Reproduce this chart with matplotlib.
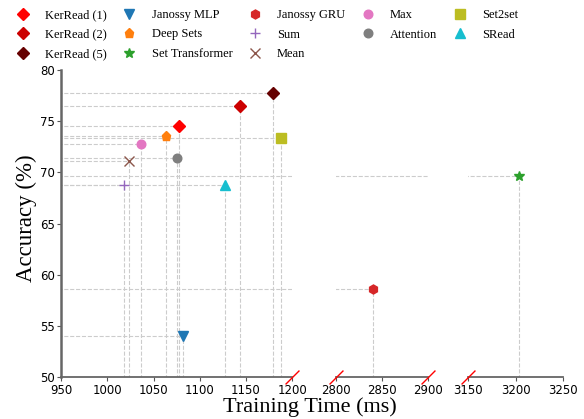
import matplotlib
matplotlib.use("Agg")
import matplotlib.pyplot as plt

names = ["KerRead (1)", "KerRead (2)", "KerRead (5)", "Janossy MLP", "Deep Sets",
         "Set Transformer", "Janossy GRU", "Sum", "Mean", "Max", "Attention",
         "Set2set", "SRead"]
times = [1078, 1144, 1179.5, 1082, 1063.5, 3203, 2840, 1018, 1023, 1036.5, 1075, 1188, 1127.6]
accs = [74.5, 76.5, 77.8, 54.0, 73.6, 69.7, 58.6, 68.8, 71.1, 72.8, 71.4, 73.4, 68.8]
colors = ["#ff0000", "#cc0000", "#660000", "tab:blue", "tab:orange", "tab:green",
          "tab:red", "tab:purple", "tab:brown", "tab:pink", "tab:gray", "tab:olive", "tab:cyan"]
markers = ["D", "D", "D", "v", "p", "*", "h", "+", "x", "o", "o", "s", "^"]
sizes = [6.5, 6.5, 6.5, 6.5, 6.5, 7.5, 6.5, 6.5, 6.5, 6.2, 6.2, 6.5, 6.5]

xlims = [(950, 1200), (2800, 2900), (3150, 3250)]
xticks = [[950, 1000, 1050, 1100, 1150, 1200], [2800, 2850, 2900], [3150, 3200, 3250]]
yticks = [50, 55, 60, 65, 70, 75, 80]

fig = plt.figure(figsize=(5.84, 4.19), dpi=100)
W, H = 584, 419
panels_px = [(61, 292.3), (335.7, 427.7), (468, 563.3)]
top, bot = 70, 377.3
axes = []
for (x0, x1) in panels_px:
    ax = fig.add_axes([x0 / W, 1 - bot / H, (x1 - x0) / W, (bot - top) / H])
    axes.append(ax)

for i, ax in enumerate(axes):
    ax.set_xlim(*xlims[i])
    ax.set_ylim(50, 80)
    ax.set_xticks(xticks[i])
    ax.tick_params(axis="x", labelsize=8.5, length=3, color="#555555", pad=1.5)
    for s in ["top", "right"]:
        ax.spines[s].set_visible(False)
    ax.spines["bottom"].set_color("#666666")
    ax.spines["bottom"].set_linewidth(1.3)
    if i == 0:
        ax.set_yticks(yticks)
        ax.tick_params(axis="y", labelsize=8.5, length=3, color="#555555", pad=1.5)
        ax.spines["left"].set_color("#666666")
        ax.spines["left"].set_linewidth(1.8)
    else:
        ax.spines["left"].set_visible(False)
        ax.set_yticks([])
    # reference lines
    for t, a in zip(times, accs):
        ax.plot([0, t], [a, a], ls="--", color="#cccccc", lw=0.8, zorder=1)
        if xlims[i][0] <= t <= xlims[i][1]:
            ax.plot([t, t], [0, a], ls="--", color="#cccccc", lw=0.8, zorder=1)
    for t, a, c, m, s, n in zip(times, accs, colors, markers, sizes, names):
        ax.plot([t], [a], ls="none", marker=m, color=c, ms=s, label=n, zorder=3,
                clip_on=True)

# break marks
kw = dict(marker=[(-1, -1), (1, 1)], markersize=10, linestyle="none",
          color="red", mec="red", mew=1, clip_on=False, zorder=5)
axes[0].plot([1], [0], transform=axes[0].transAxes, **kw)
axes[1].plot([0, 1], [0, 0], transform=axes[1].transAxes, **kw)
axes[2].plot([0], [0], transform=axes[2].transAxes, **kw)

handles, labels = axes[0].get_legend_handles_labels()
fig.legend(handles, labels, loc="upper left", bbox_to_anchor=(5 / W, 1 - 4 / H), ncol=5,
           frameon=False, prop={"family": "Liberation Serif", "size": 9},
           borderaxespad=0, columnspacing=0.78, handletextpad=0.8, labelspacing=0.6)

fig.text(310 / W, 1 - 407 / H, "Training Time (ms)", ha="center", va="center",
         family="Liberation Serif", fontsize=16)
fig.text(26 / W, 1 - 218 / H, "Accuracy (%)", ha="center", va="center", rotation=90,
         family="Liberation Serif", fontsize=16.5)

fig.savefig("out.png", dpi=100)
